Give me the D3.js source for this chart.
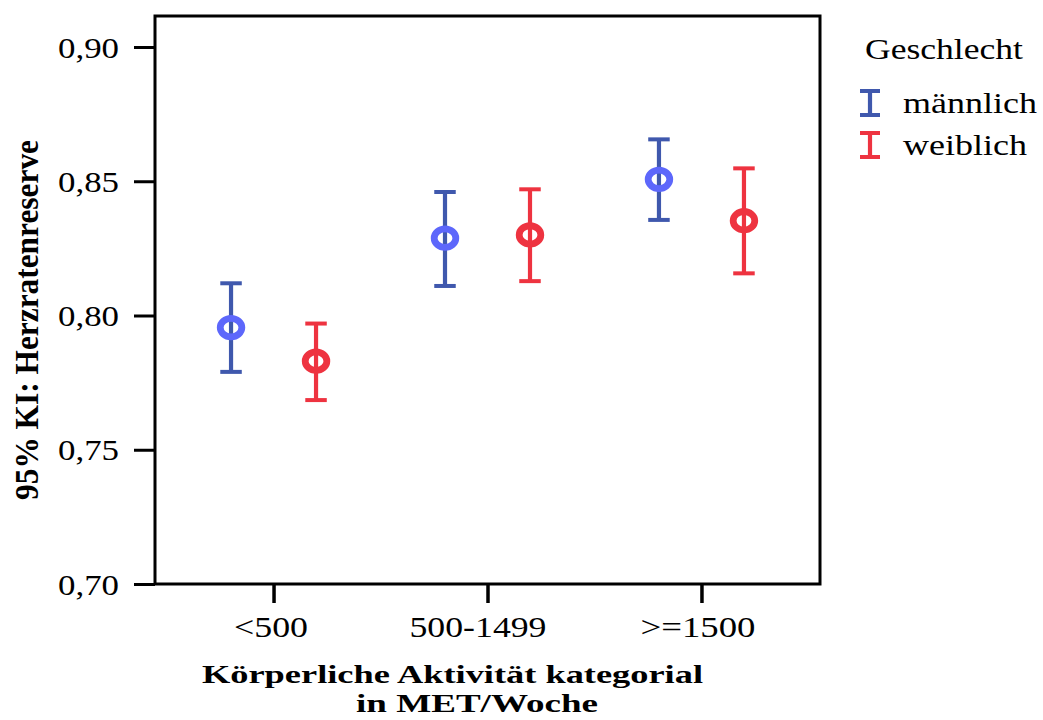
<!DOCTYPE html>
<html>
<head>
<meta charset="utf-8">
<script src="https://cdn.jsdelivr.net/npm/d3@7"></script>
<style>
  html, body { margin: 0; padding: 0; background: #fff; }
  svg { display: block; }
  text { font-family: "Liberation Serif", "Times New Roman", serif; fill: #000; }
</style>
</head>
<body>
<svg id="chart" width="1043" height="720"></svg>
<script>
// Categories (physical activity in MET/week) and groups (sex)
const categories = ["<500", "500-1499", ">=1500"];
const groups = ["männlich", "weiblich"];

// 95% confidence intervals of the heart-rate reserve: lower bound, mean, upper bound
const maleLower  = [0.779, 0.811, 0.8356];
const maleMean   = [0.7955, 0.8288, 0.8507];
const maleUpper  = [0.812, 0.846, 0.8656];
const femaleLower = [0.7685, 0.8128, 0.8157];
const femaleMean  = [0.783, 0.830, 0.8353];
const femaleUpper = [0.797, 0.847, 0.8548];

const yTicks = [0.70, 0.75, 0.80, 0.85, 0.90];

// Widths of the printed labels (wide, stretched serif lettering)
const xTickWidths = { "<500": 74, "500-1499": 137, ">=1500": 115 };

const rows = [];
categories.forEach((c, i) => {
  rows.push({ cat: c, group: groups[0], lo: maleLower[i], mean: maleMean[i], hi: maleUpper[i] });
  rows.push({ cat: c, group: groups[1], lo: femaleLower[i], mean: femaleMean[i], hi: femaleUpper[i] });
});

const svg = d3.select("#chart");
const plot = { left: 155, right: 820, top: 16, bottom: 584 };

const x = d3.scalePoint().domain(categories).range([plot.left, plot.right]).padding(0.554);
const xOff = d3.scalePoint().domain(groups).range([-42.5, 42.5]);
const y = d3.scaleLinear().domain([0.70, 0.90]).range([plot.bottom, 47]);

const barColor  = { "männlich": "#3f58ad", "weiblich": "#ee3340" };
const dotColor  = { "männlich": "#5d67fb", "weiblich": "#ee3340" };

const deFormat = d3.formatLocale({ decimal: ",", thousands: ".", grouping: [3], currency: ["", " €"] }).format(".2f");

// Left axis: ticks outside the frame
const yAxis = d3.axisLeft(y).tickValues(yTicks).tickSize(21).tickPadding(16).tickFormat(deFormat);
const gy = svg.append("g").attr("transform", `translate(${plot.left},0)`).call(yAxis);
gy.select(".domain").remove();
gy.selectAll(".tick line").attr("stroke", "#000").attr("stroke-width", 3);
gy.selectAll(".tick text")
  .attr("font-size", 30)
  .attr("dy", null)
  .attr("y", 10)
  .attr("x", -36)
  .attr("textLength", 61)
  .attr("lengthAdjust", "spacingAndGlyphs")
  .style("font-family", "'Liberation Serif', serif");

// Bottom axis
const xAxis = d3.axisBottom(x).tickSize(19).tickPadding(0);
const gx = svg.append("g").attr("transform", `translate(0,${plot.bottom})`).call(xAxis);
gx.select(".domain").remove();
gx.selectAll(".tick line").attr("stroke", "#000").attr("stroke-width", 3.5);
gx.selectAll(".tick text")
  .attr("font-size", 30)
  .attr("dy", null)
  .attr("y", 53)
  .attr("x", d => d === "500-1499" ? -10 : (d === "<500" ? -3 : -4))
  .attr("textLength", d => xTickWidths[d])
  .attr("lengthAdjust", "spacingAndGlyphs")
  .style("font-family", "'Liberation Serif', serif");

// Plot frame
svg.append("rect")
  .attr("x", plot.left).attr("y", plot.top)
  .attr("width", plot.right - plot.left).attr("height", plot.bottom - plot.top)
  .attr("fill", "none").attr("stroke", "#000").attr("stroke-width", 3);

// Error bars
const capHalf = 10.75;
const bars = svg.append("g").selectAll("g.bar").data(rows).join("g")
  .attr("class", "bar")
  .attr("transform", d => `translate(${x(d.cat) + xOff(d.group)},0)`);

bars.append("line")
  .attr("x1", 0).attr("x2", 0)
  .attr("y1", d => y(d.hi)).attr("y2", d => y(d.lo))
  .attr("stroke", d => barColor[d.group]).attr("stroke-width", 4.2);
bars.append("line")
  .attr("x1", -capHalf).attr("x2", capHalf)
  .attr("y1", d => y(d.hi)).attr("y2", d => y(d.hi))
  .attr("stroke", d => barColor[d.group]).attr("stroke-width", 4);
bars.append("line")
  .attr("x1", -capHalf).attr("x2", capHalf)
  .attr("y1", d => y(d.lo)).attr("y2", d => y(d.lo))
  .attr("stroke", d => barColor[d.group]).attr("stroke-width", 4);

// Mean markers (open rings)
bars.append("ellipse")
  .attr("cx", 0).attr("cy", d => y(d.mean))
  .attr("rx", 10.8).attr("ry", 9.2)
  .attr("fill", "none")
  .attr("stroke", d => dotColor[d.group]).attr("stroke-width", 6.8);

// Axis titles
const xTitle = svg.append("g").attr("font-weight", "bold").attr("font-size", 25);
xTitle.append("text")
  .attr("x", 452.5).attr("y", 683).attr("text-anchor", "middle")
  .attr("textLength", 501).attr("lengthAdjust", "spacingAndGlyphs")
  .text("Körperliche Aktivität kategorial");
xTitle.append("text")
  .attr("x", 477).attr("y", 712).attr("text-anchor", "middle")
  .attr("textLength", 242).attr("lengthAdjust", "spacingAndGlyphs")
  .text("in MET/Woche");

svg.append("text")
  .attr("transform", "translate(38,320) rotate(-90) scale(1,1.17)")
  .attr("text-anchor", "middle")
  .attr("font-weight", "bold").attr("font-size", 28)
  .attr("textLength", 360).attr("lengthAdjust", "spacingAndGlyphs")
  .text("95% KI: Herzratenreserve");

// Legend
const legend = svg.append("g");
legend.append("text")
  .attr("x", 865).attr("y", 59).attr("font-size", 29)
  .attr("textLength", 158).attr("lengthAdjust", "spacingAndGlyphs")
  .text("Geschlecht");

const legendWidths = { "männlich": 134, "weiblich": 124 };
const items = legend.selectAll("g.item").data(groups).join("g")
  .attr("class", "item")
  .attr("transform", (d, i) => `translate(870,${103 + i * 42})`);
items.append("line").attr("x1", 0).attr("x2", 0).attr("y1", -12).attr("y2", 12)
  .attr("stroke", d => barColor[d]).attr("stroke-width", 4.2);
items.append("line").attr("x1", -10).attr("x2", 10).attr("y1", -12).attr("y2", -12)
  .attr("stroke", d => barColor[d]).attr("stroke-width", 4);
items.append("line").attr("x1", -10).attr("x2", 10).attr("y1", 12).attr("y2", 12)
  .attr("stroke", d => barColor[d]).attr("stroke-width", 4);
items.append("text")
  .attr("x", 33).attr("y", 10).attr("font-size", 29)
  .attr("textLength", d => legendWidths[d]).attr("lengthAdjust", "spacingAndGlyphs")
  .text(d => d);
</script>
</body>
</html>
